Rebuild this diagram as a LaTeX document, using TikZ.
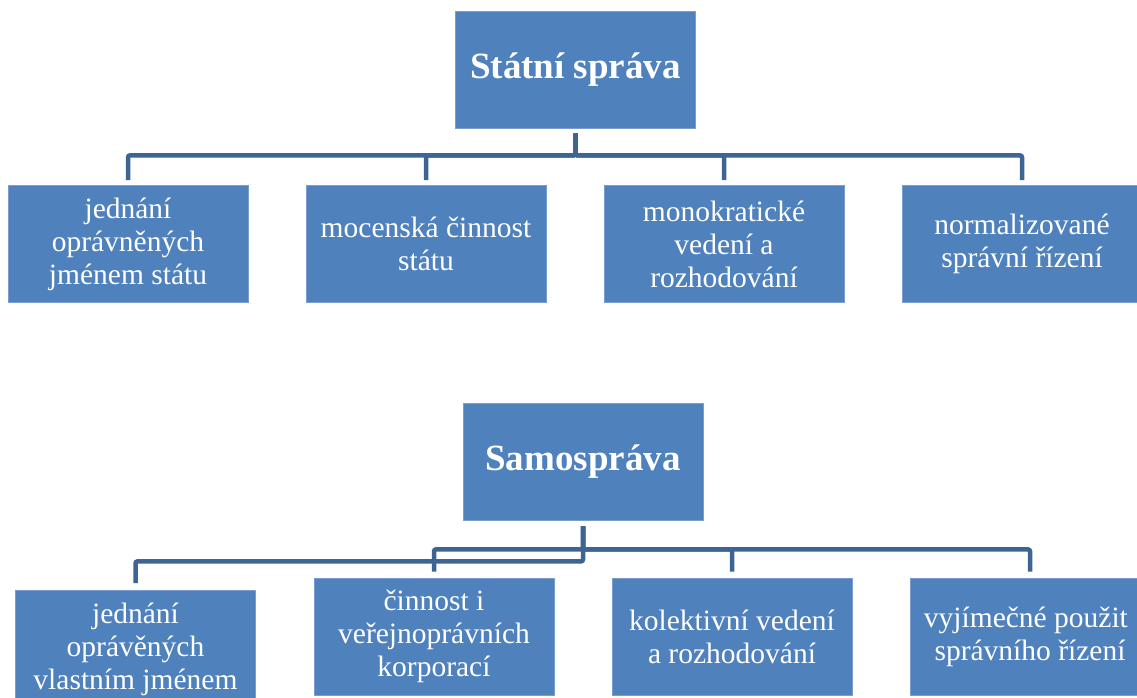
\documentclass[tikz,border=0pt]{standalone}
\usepackage{fontspec}
\setmainfont{Liberation Serif}
\definecolor{boxfill}{HTML}{4F81BD}
\definecolor{boxedge}{HTML}{7A9DCF}
\definecolor{linec}{HTML}{3E6494}
\tikzset{
  box/.style={rectangle, fill=boxfill, draw=boxedge, line width=0.8pt,
    minimum width=240pt, minimum height=117pt, inner sep=0pt, align=center,
    text=white, font=\fontsize{29.5}{33}\selectfont},
  rootbox/.style={box, font=\fontsize{37}{40}\selectfont\bfseries},
  conn/.style={draw=linec, line width=4.5pt, rounded corners=2pt}
}
\begin{document}
\begin{tikzpicture}[x=1pt,y=-1pt]
\useasboundingbox (0,0) rectangle (1137,697);
\clip (0,0) rectangle (1137,697);
% top tree
\node[rootbox] (A) at (575.5,69.5) {Státní správa};
\node[box] (a1) at (128,244) {jednání\\oprávněných\\jménem státu};
\node[box] (a2) at (426,244) {mocenská činnost\\státu};
\node[box] (a3) at (724,244) {monokratické\\vedení a\\rozhodování};
\node[box] (a4) at (1022,244) {normalizované\\správní řízení};
\foreach \c in {a1,a2,a3,a4}
  \draw[conn] ([yshift=-5pt]A.south) -- ([yshift=-27pt]A.south) -| ([yshift=5pt]\c.north);
% bottom tree
\node[rootbox] (B) at (583,461.5) {Samospráva};
\node[box] (b1) at (135.5,649) {jednání\\oprávěných\\vlastním jménem};
\node[box] (b2) at (434,636.5) {činnost i\\veřejnoprávních\\korporací};
\node[box] (b3) at (732,636.5) {kolektivní vedení\\a rozhodování};
\node[box] (b4) at (1030,636.5) {vyjímečné použit\phantom{í}\\správního řízení};
\draw[conn] ([yshift=-6pt]B.south) -- ([yshift=-41pt]B.south) -| ([yshift=7pt]b1.north);
\foreach \c in {b2,b3,b4}
  \draw[conn] ([yshift=-6pt]B.south) -- ([yshift=-29pt]B.south) -| ([yshift=6pt]\c.north);
\end{tikzpicture}
\end{document}
